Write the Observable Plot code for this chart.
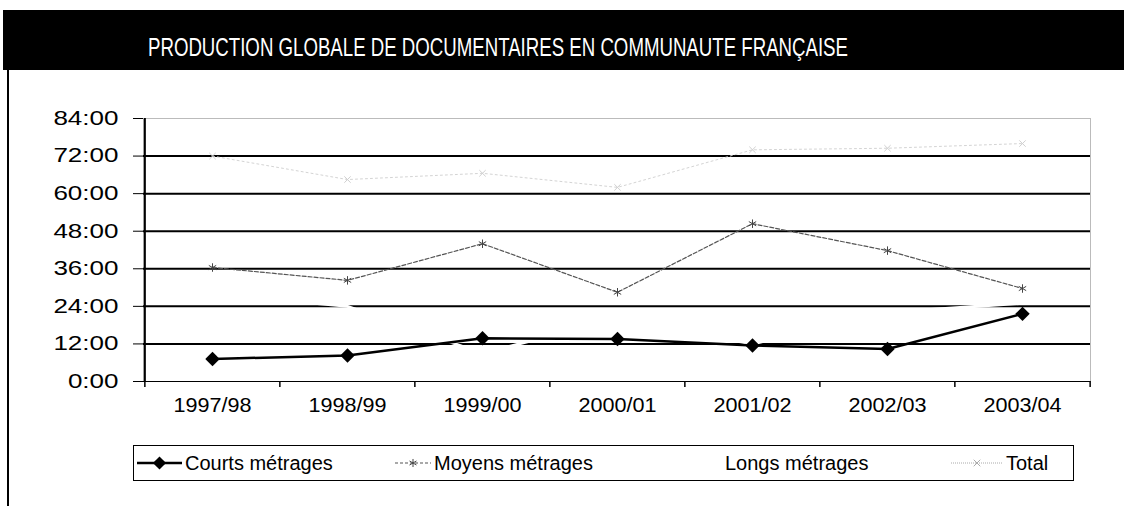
<!DOCTYPE html>
<html>
<head>
<meta charset="utf-8">
<script src="https://cdn.jsdelivr.net/npm/d3@7"></script>
<script src="https://cdn.jsdelivr.net/npm/@observablehq/plot@0.6"></script>
<style>
  html, body { margin: 0; padding: 0; background: #fff; }
  #page { position: relative; width: 1124px; height: 506px; overflow: hidden; background: #fff; font-family: "Liberation Sans", Arial, sans-serif; }
  #chart { position: absolute; left: 0; top: 100px; }
  #legend { position: absolute; left: 133px; top: 445px; width: 939px; height: 34px; border: 1.5px solid #000; }
  .item { position: absolute; top: 0; height: 34px; display: flex; align-items: center; font-size: 20px; color: #000; white-space: nowrap; }
  .item svg { display: block; }
</style>
</head>
<body>
<div id="page">
  <svg id="title" width="1124" height="76" style="position:absolute;left:0;top:0">
    <rect x="3" y="10" width="1121" height="60" fill="#000"></rect>
    <text x="148" y="56" fill="#fff" font-family="'Liberation Sans', Arial, sans-serif" font-size="25" textLength="700" lengthAdjust="spacingAndGlyphs">PRODUCTION GLOBALE DE DOCUMENTAIRES EN COMMUNAUTE FRANÇAISE</text>
  </svg>
  <div style="position:absolute;left:7px;top:70px;width:2px;height:436px;background:#000"></div>
  <div id="chart"></div>
  <div id="legend"></div>
</div>
<script>
// ---- data (hours) ----
const categories = ["1997/98", "1998/99", "1999/00", "2000/01", "2001/02", "2002/03", "2003/04"];
const courts = [7.2, 8.3, 13.8, 13.6, 11.5, 10.4, 21.6];
const moyens = [36.4, 32.3, 44.0, 28.5, 50.4, 41.8, 29.7];
const longs  = [28.0, 24.0, 9.0, 20.0, 12.0, 22.0, 25.0];
const total  = [72.0, 64.5, 66.5, 62.0, 74.0, 74.5, 76.0];
const yTicks = [0, 12, 24, 36, 48, 60, 72, 84];
const seriesNames = ["Courts métrages", "Moyens métrages", "Longs métrages", "Total"];

const rows = (vals) => categories.map((c, i) => ({cat: c, v: vals[i]}));
const dCourts = rows(courts), dMoyens = rows(moyens), dLongs = rows(longs), dTotal = rows(total);

const W = 1124, H = 330, mL = 143, mR = 34, mT = 18, mB = 49;
const step = (W - mL - mR) / categories.length;

const chart = Plot.plot({
  width: W, height: H,
  marginLeft: mL, marginRight: mR, marginTop: mT, marginBottom: mB,
  style: {fontFamily: "'Liberation Sans', Arial, sans-serif", fontSize: "20px", color: "#000", background: "transparent"},
  x: {type: "point", domain: categories, padding: 0.5, label: null, tickSize: 0, tickPadding: 16},
  y: {domain: [0, 84], ticks: yTicks, tickFormat: d => `${d}:00`, label: null, tickSize: 10, tickPadding: 15},
  marks: [
    Plot.frame({stroke: "#777", strokeDasharray: "1,1", strokeWidth: 1}),
    Plot.ruleY(yTicks.filter(t => t > 0 && t < 84), {stroke: "#000", strokeWidth: 2}),
    Plot.ruleY([0], {stroke: "#000", strokeWidth: 1.2}),
    Plot.ruleX([categories[0]], {dx: -step / 2, y1: 0, y2: 84, stroke: "#000", strokeWidth: 2}),
    Plot.ruleX(categories, {dx: -step / 2, y1: 0, y2: -1.9, stroke: "#000", strokeWidth: 1.5}),
    Plot.ruleX([categories[categories.length - 1]], {dx: step / 2, y1: 0, y2: -1.9, stroke: "#000", strokeWidth: 1.5}),
    // Longs métrages (white in the print)
    Plot.line(dLongs, {x: "cat", y: "v", stroke: "#fff", strokeWidth: 3}),
    // Total (very light)
    Plot.line(dTotal, {x: "cat", y: "v", stroke: "#d4d4d4", strokeWidth: 1, strokeDasharray: "2,3"}),
    Plot.dot(dTotal, {x: "cat", y: "v", symbol: "times", r: 3, stroke: "#d0d0d0", strokeWidth: 1}),
    // Moyens métrages
    Plot.line(dMoyens, {x: "cat", y: "v", stroke: "#555", strokeWidth: 1.2, strokeDasharray: "4,2"}),
    Plot.dot(dMoyens, {x: "cat", y: "v", symbol: "asterisk", r: 4, stroke: "#444", strokeWidth: 1}),
    // Courts métrages
    Plot.line(dCourts, {x: "cat", y: "v", stroke: "#000", strokeWidth: 2.5}),
    Plot.dot(dCourts, {x: "cat", y: "v", symbol: "diamond2", r: 6.5, fill: "#000", stroke: "none"})
  ]
});
document.getElementById("chart").appendChild(chart);

// widen the axis tick labels slightly (the printed text is horizontally stretched)
function stretch(sel, factor) {
  chart.querySelectorAll(sel).forEach(t => {
    const len = t.getComputedTextLength();
    if (len > 0) {
      t.setAttribute("textLength", (len * factor).toFixed(1));
      t.setAttribute("lengthAdjust", "spacingAndGlyphs");
    }
  });
}
stretch("[aria-label='y-axis tick label'] text", 1.3);
stretch("[aria-label='x-axis tick label'] text", 1.08);

// ---- legend ----
const legend = d3.select("#legend");
const items = [
  {name: seriesNames[0], left: 3, sw: 45, line: {stroke: "#000", w: 2.5, dash: null}, marker: "diamond"},
  {name: seriesNames[1], left: 261, sw: 36, line: {stroke: "#555", w: 1.2, dash: "3,2"}, marker: "asterisk"},
  {name: seriesNames[2], left: 548, sw: 40, line: {stroke: "#fff", w: 2, dash: null}, marker: null},
  {name: seriesNames[3], left: 817, sw: 52, line: {stroke: "#aaa", w: 1, dash: "1,1"}, marker: "times"}
];
for (const it of items) {
  const div = legend.append("div").attr("class", "item").style("left", it.left + "px");
  const svg = div.append("svg").attr("width", it.sw).attr("height", 20).style("margin-right", "3px");
  svg.append("line").attr("x1", 0).attr("x2", it.sw).attr("y1", 10).attr("y2", 10)
    .attr("stroke", it.line.stroke).attr("stroke-width", it.line.w)
    .attr("stroke-dasharray", it.line.dash);
  const cx = it.sw / 2;
  if (it.marker === "diamond") {
    svg.append("path").attr("d", d3.symbol(d3.symbolDiamond2, 110)()).attr("transform", `translate(${cx},10)`).attr("fill", "#000");
  } else if (it.marker === "asterisk") {
    svg.append("path").attr("d", d3.symbol(d3.symbolAsterisk, 45)()).attr("transform", `translate(${cx},10)`).attr("fill", "none").attr("stroke", "#444");
  } else if (it.marker === "times") {
    svg.append("path").attr("d", d3.symbol(d3.symbolTimes, 30)()).attr("transform", `translate(${cx},10)`).attr("fill", "none").attr("stroke", "#aaa");
  }
  div.append("span").text(it.name);
}
</script>
</body>
</html>
